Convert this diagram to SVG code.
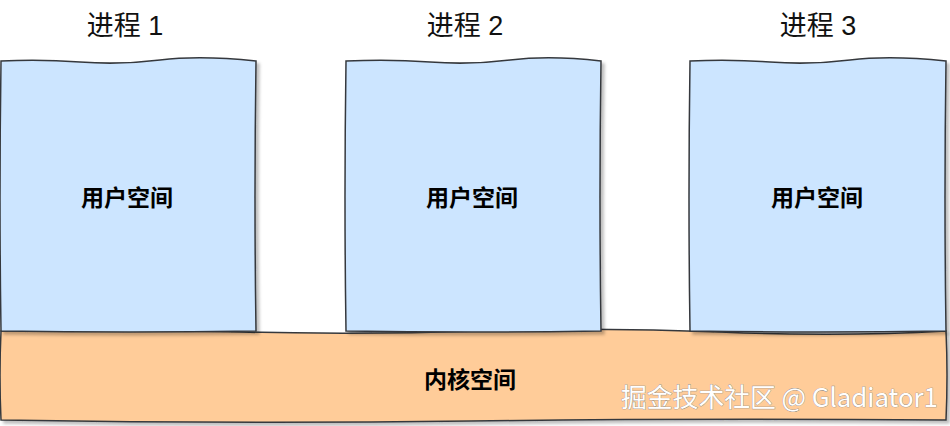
<svg xmlns="http://www.w3.org/2000/svg" width="950" height="426" viewBox="0 0 950 426">
<defs>
<filter id="sh" x="-5%" y="-5%" width="110%" height="115%">
<feDropShadow dx="3" dy="3" stdDeviation="1.5" flood-color="#000" flood-opacity="0.25"/>
</filter>
<style>
.user{fill:#cce5ff;stroke:#36393d;stroke-width:1.5;filter:url(#sh)}
.kern{fill:#ffcc99;stroke:#36393d;stroke-width:1.5;filter:url(#sh)}
.title{font-family:"Liberation Sans","Noto Sans CJK SC",sans-serif;font-size:27px;fill:#111;text-anchor:middle}
.lbl{font-family:"Liberation Sans","Noto Sans CJK SC",sans-serif;font-size:23px;font-weight:bold;fill:#000;text-anchor:middle}
.wm{font-family:"Noto Sans CJK SC",sans-serif;font-size:25.8px;fill:#fff;stroke:#888;stroke-width:0.7;paint-order:stroke}
</style>
</defs>
<rect width="950" height="426" fill="#fff"/>
<g id="kernel">
<path class="kern" d="M1,331 Q120,329 240,332 T480,331 T720,332 T946,331 Q948,375 946,420 Q700,418 470,421 T1,420 Q-1,375 1,331 Z"/>
<text class="lbl" x="470" y="388">内核空间</text>
</g>
<g id="proc1">
<text class="title" x="125" y="35">进程 1</text>
<path class="user" d="M1,61 Q40,59 80,62 T160,60 T256,61 Q254,200 256,331 Q130,333 1,331 Q-1,200 1,61 Z"/>
<text class="lbl" x="127" y="206">用户空间</text>
</g>
<g id="proc2">
<text class="title" x="465" y="35">进程 2</text>
<path class="user" d="M346,61 Q390,59 430,62 T510,60 T601,61 Q599,200 601,331 Q470,333 346,331 Q344,200 346,61 Z"/>
<text class="lbl" x="472" y="206">用户空间</text>
</g>
<g id="proc3">
<text class="title" x="818" y="35">进程 3</text>
<path class="user" d="M690,61 Q730,59 770,62 T850,60 T946,61 Q944,200 946,331 Q820,333 690,331 Q688,200 690,61 Z"/>
<text class="lbl" x="817" y="206">用户空间</text>
</g>
<g id="connectors"></g>
<text class="wm" x="621" y="407">掘金技术社区 @ Gladiator1</text>
</svg>
